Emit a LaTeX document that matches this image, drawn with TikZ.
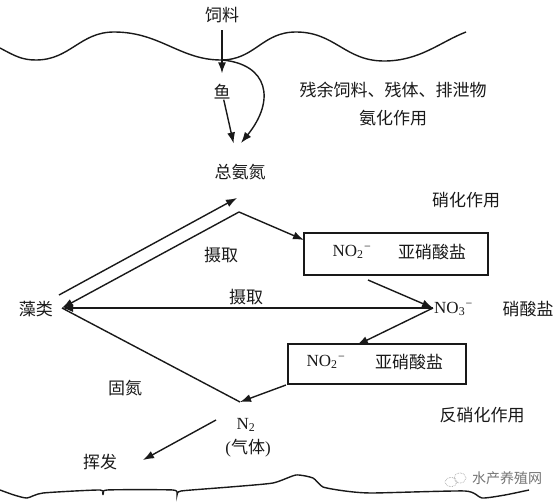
\documentclass[tikz,border=0pt]{standalone}
\usepackage{fontspec}
\setmainfont{Liberation Serif}
\newfontfamily\cjk{Noto Sans CJK SC}
\usetikzlibrary{arrows.meta}
\newcommand\chemion[2]{#1\textsubscript{#2}\kern0.5pt\textsuperscript{−}}
\begin{document}
\begin{tikzpicture}[x=1pt,y=-1pt,
  lbl/.style={font=\cjk\fontsize{17}{19}\selectfont, inner sep=0pt, text=black!90},
  chem/.style={font=\fontsize{17}{19}\selectfont, inner sep=0pt, text=black!90},
  ln/.style={line width=1.4pt, black!90},
  arr/.style={ln, -{Latex[length=11pt,width=8pt]}},
  boxst/.style={draw, line width=1.3pt, black!90, inner sep=0pt}]
\useasboundingbox (0,0) rectangle (560,503);

% surface wave
\draw[ln] (0,48) .. controls (15,56) and (22,60) .. (36,60)
  .. controls (70,60) and (80,32) .. (114,32)
  .. controls (160,32) and (180,60) .. (221,60)
  .. controls (255,60) and (262,32) .. (296,32)
  .. controls (335,32) and (345,61) .. (384,61)
  .. controls (420,61) and (440,42) .. (466,32);

% bottom line
\draw[ln] plot[smooth, tension=0.35] coordinates {(0,490) (14,495) (27,498) (43,493) (100,490) (103,495) (107,490) (173,490) (177,495) (181,491) (230,487) (273,483) (296,475) (313,478) (323,487) (345,491) (372,493) (465,491) (482,498) (505,495) (529,490)};

% text nodes
\node[lbl] (feed) at (222,15) {饲料};
\node[lbl] (fish) at (222,92) {鱼};
\node[lbl] (tan) at (240,172) {总氨氮};
\node[lbl] (resid) at (393,90) {残余饲料、残体、排泄物};
\node[lbl] (ammon) at (393,118) {氨化作用};
\node[lbl] (nitr) at (466,200) {硝化作用};
\node[lbl] (up1) at (221,255) {摄取};
\node[lbl] (up2) at (246,297) {摄取};
\node[lbl] (algae) at (36,309) {藻类};
\node[lbl] (fix) at (125,388) {固氮};
\node[lbl] (vol) at (100,462) {挥发};
\node[lbl] (denitr) at (482,415) {反硝化作用};

% boxes
\node[boxst, minimum width=184pt, minimum height=42pt] (box1) at (396,254) {};
\node[chem] (no2a) at (352,252) {\chemion{NO}{2}};
\node[lbl] (nitea) at (432,252) {亚硝酸盐};
\node[boxst, minimum width=178pt, minimum height=40pt] (box2) at (377,364) {};
\node[chem] (no2b) at (326,362) {\chemion{NO}{2}};
\node[lbl] (niteb) at (409,362) {亚硝酸盐};

\node[chem, anchor=west] (no3) at (434,309) {\chemion{NO}{3}};
\node[lbl] (nate) at (528,309) {硝酸盐};
\node[chem] (n2) at (246,425) {N\textsubscript{2}};
\node[chem] (gas) at (248,448) {({\cjk 气体})};

% watermark
\node[font=\cjk\fontsize{14}{16}\selectfont, text=black!55, inner sep=0pt] (wm) at (507,478) {水产养殖网};
\draw[black!45, densely dotted, line width=0.6pt] (451,482) ellipse (6pt and 4.5pt);
\draw[black!45, densely dotted, line width=0.6pt] (460,478) ellipse (6pt and 5pt);

% connector points
\coordinate (wv) at (222,60);
\coordinate (tin) at (241,143);
\coordinate (a1) at (59,295);
\coordinate (t1) at (237,198);
\coordinate (apex) at (239,212);
\coordinate (alg) at (62,308);
\coordinate (b1in) at (304,240);
\coordinate (b1out) at (368,280);
\coordinate (no3pt) at (433,308);
\coordinate (b2in) at (357,345);
\coordinate (b2out) at (286,385);
\coordinate (n2pt) at (240,402);
\coordinate (volfrom) at (216,420);
\coordinate (volto) at (143,460);

% connectors
\draw[arr, shorten <=7pt, shorten >=11pt] (feed) -- (fish);
\draw[arr, shorten <=0pt, shorten >=21pt] (fish) -- (tan);
\draw[arr] (wv) .. controls (268,64) and (276,100) .. (tin);
\draw[arr] (a1) -- (t1);
\draw[arr] (apex) -- (alg);
\draw[arr] (apex) -- (b1in);
\draw[arr] (b1out) -- (no3pt);
\draw[arr] (no3pt) -- (alg);
\draw[arr] (no3pt) -- (b2in);
\draw[ln] (n2pt) -- (alg);
\draw[arr] (b2out) -- (n2pt);
\draw[arr] (volfrom) -- (volto);
\end{tikzpicture}
\end{document}
